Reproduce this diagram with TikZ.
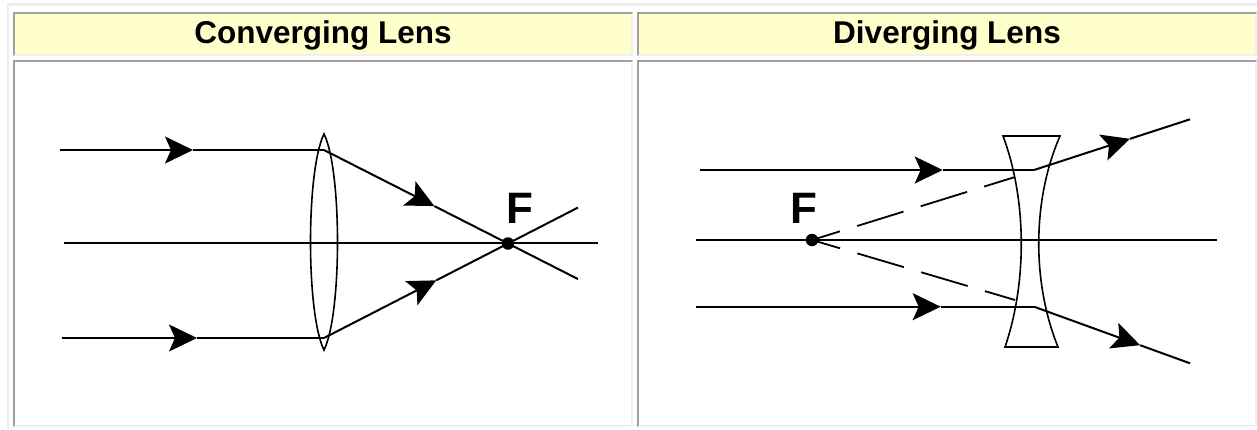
\documentclass[tikz,border=0pt]{standalone}
\usepackage{fontspec}
\setmainfont{Liberation Sans}
\usetikzlibrary{arrows.meta,calc}
\definecolor{hdrfill}{HTML}{FFFFCC}
\definecolor{bdark}{HTML}{A0A0A0}
\definecolor{blight}{HTML}{F0F0F0}
\definecolor{bouter}{HTML}{EEEEEE}
\newcommand{\tabcell}[5]{%
  \fill[blight] (#1,#2) rectangle (#3,#4);
  \fill[bdark] (#1,#4) -- (#1,#2) -- (#3,#2) -- ({#3-2},{#2+2}) -- ({#1+2},{#2+2}) -- ({#1+2},{#4-2}) -- cycle;
  \fill[#5] ({#1+2},{#2+2}) rectangle ({#3-2},{#4-2});
}
\begin{document}
\begin{tikzpicture}[x=1pt,y=-1pt,
  ray/.style={line width=2pt, black},
  rayarrow/.style={ray, -{Stealth[length=28pt,width=27pt,inset=6pt]}},
  lensline/.style={line width=1.6pt, black},
  virtual/.style={line width=1.8pt, black, dash pattern=on 48.5pt off 18pt, dash phase=19.2pt},
  focusdot/.style={circle, fill=black, inner sep=0pt, minimum size=12.5pt},
  head/.style={font=\bfseries\fontsize{31.5}{36}\selectfont, inner sep=0pt, anchor=base},
  flabel/.style={font=\bfseries\fontsize{44}{48}\selectfont, inner sep=0pt, anchor=base}]

\useasboundingbox (0,0) rectangle (1257,429);
\fill[white] (0,0) rectangle (1257,429);
% outer table border
\fill[bouter] (7,3) rectangle (1257,6);
\fill[bouter] (7,3) rectangle (9,429);
% cells
\tabcell{13}{12}{633}{56}{hdrfill}
\tabcell{637}{12}{1257}{56}{hdrfill}
\tabcell{13}{60}{633}{427}{white}
\tabcell{637}{60}{1257}{427}{white}

\node[head] (h1) at (323,43.3) {Converging Lens};
\node[head] (h2) at (947,43.3) {Diverging Lens};

% ---------- converging lens ----------
\coordinate (axL1) at (64,243);
\coordinate (axL2) at (598,243);
\coordinate (FL) at (508,243.5);
\coordinate (inT) at (60,150);
\coordinate (lensT) at (324,150);
\coordinate (inB) at (62,338);
\coordinate (lensB) at (324,338);
\coordinate (outT) at ($(lensT)!1.38!(FL)$);
\coordinate (outB) at ($(lensB)!1.38!(FL)$);
\coordinate (aT) at (193,150);
\coordinate (aB) at (197,338);
\coordinate (aRT) at ($(lensT)!0.6!(FL)$);
\coordinate (aRB) at ($(lensB)!0.61!(FL)$);
\coordinate (cTop) at (324,134);
\coordinate (cBot) at (324,350);

\draw[ray] (axL1) -- (axL2);
\draw[lensline] (cTop) .. controls (306,170) and (306,314) .. (cBot)
                       .. controls (342,314) and (342,170) .. (cTop) -- cycle;
\draw[rayarrow] (inT) -- (aT);
\draw[ray] (aT) -- (lensT);
\draw[rayarrow] (inB) -- (aB);
\draw[ray] (aB) -- (lensB);
\draw[rayarrow] (lensT) -- (aRT);
\draw[ray] (aRT) -- (outT);
\draw[rayarrow] (lensB) -- (aRB);
\draw[ray] (aRB) -- (outB);
\node[focusdot] (dotL) at (FL) {};
\node[flabel] (labL) at (520,223) {F};

% ---------- diverging lens ----------
\coordinate (axR1) at (696,240);
\coordinate (axR2) at (1217,240);
\coordinate (FR) at (812,240);
\coordinate (inRT) at (700,170);
\coordinate (bendT) at (1034,170);
\coordinate (outRT) at (1190,119.3);
\coordinate (inRB) at (696,306.7);
\coordinate (bendB) at (1034,306.7);
\coordinate (outRB) at (1190,363.3);
\coordinate (vT) at (1015,177);
\coordinate (vB) at (1015,300);
\coordinate (bT) at (942.7,170);
\coordinate (bB) at (940.7,306.7);
\coordinate (bRT) at ($(bendT)!0.615!(outRT)$);
\coordinate (bRB) at ($(bendB)!0.68!(outRB)$);
\coordinate (dTL) at (1003,136);
\coordinate (dTR) at (1060,136);
\coordinate (dBL) at (1005,347);
\coordinate (dBR) at (1058,347);

\draw[ray] (axR1) -- (axR2);
\draw[lensline] (dTL) -- (dTR) .. controls (1032,200) and (1032,283) .. (dBR)
                -- (dBL) .. controls (1027,283) and (1027,200) .. (dTL) -- cycle;
\draw[rayarrow] (inRT) -- (bT);
\draw[ray] (bT) -- (bendT);
\draw[rayarrow] (inRB) -- (bB);
\draw[ray] (bB) -- (bendB);
\draw[rayarrow] (bendT) -- (bRT);
\draw[ray] (bRT) -- (outRT);
\draw[rayarrow] (bendB) -- (bRB);
\draw[ray] (bRB) -- (outRB);
\draw[virtual] (FR) -- (vT);
\draw[virtual] (FR) -- (vB);
\node[focusdot] (dotR) at (FR) {};
\node[flabel] (labR) at (804,223) {F};
\end{tikzpicture}
\end{document}
